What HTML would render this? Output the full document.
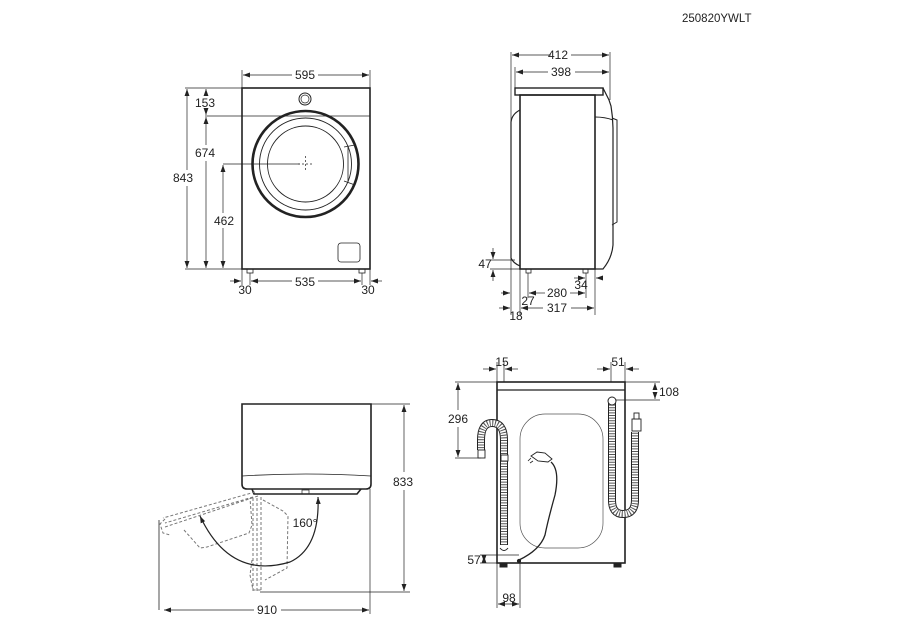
<!DOCTYPE html>
<html><head><meta charset="utf-8"><style>
html,body{margin:0;padding:0;background:#fff}
svg{display:block}
text{font-family:"Liberation Sans",Arial,sans-serif;font-size:12px;fill:#222}
</style></head><body>
<svg width="915" height="642" viewBox="0 0 915 642" xmlns="http://www.w3.org/2000/svg">
<defs>
<marker id="a" viewBox="0 0 10 10" refX="10" refY="5" markerWidth="7" markerHeight="7" orient="auto-start-reverse" markerUnits="userSpaceOnUse"><path d="M0,1.5 L10,5 L0,8.5 z" fill="#222"/></marker>
</defs>
<text x="682" y="22" style="font-size:11.5px">250820YWLT</text>

<!-- FRONT VIEW -->
<g stroke="#222" fill="none">
<rect x="242" y="88" width="128" height="181" stroke-width="1.6"/>
<line x1="242" y1="116" x2="370" y2="116" stroke-width="0.8"/>
<circle cx="305" cy="99" r="6" stroke-width="1"/><circle cx="305" cy="99" r="4" stroke-width="0.7"/>
<circle cx="305.5" cy="164" r="53" stroke-width="2.6"/>
<circle cx="305.5" cy="164" r="46" stroke-width="0.9"/>
<circle cx="305.5" cy="164" r="38" stroke-width="0.9"/>
<path d="M344,147 L355,145 M344,181 L355,185 M348,147 L348,181" stroke-width="0.8"/>
<rect x="338" y="243" width="22" height="19" rx="3" stroke-width="0.8"/>
<rect x="247" y="269" width="6" height="4" stroke-width="0.8"/>
<rect x="359" y="269" width="6" height="4" stroke-width="0.8"/>
<path d="M298,164 h15 M305.5,156 v16" stroke-width="0.7" stroke-dasharray="2,2"/>
<g stroke-width="0.7">
<line x1="242" y1="70" x2="242" y2="88"/><line x1="370" y1="70" x2="370" y2="88"/>
<line x1="243" y1="75" x2="292" y2="75" marker-start="url(#a)"/><line x1="318" y1="75" x2="369" y2="75" marker-end="url(#a)"/>
<line x1="185" y1="88" x2="242" y2="88"/><line x1="185" y1="269" x2="242" y2="269"/>
<line x1="205" y1="116" x2="242" y2="116"/>
<line x1="187" y1="89" x2="187" y2="170" marker-start="url(#a)"/><line x1="187" y1="186" x2="187" y2="268" marker-end="url(#a)"/>
<line x1="206" y1="89" x2="206" y2="96" marker-start="url(#a)"/><line x1="206" y1="110" x2="206" y2="115" marker-end="url(#a)"/>
<line x1="206" y1="117" x2="206" y2="145" marker-start="url(#a)"/><line x1="206" y1="161" x2="206" y2="268" marker-end="url(#a)"/>
<line x1="223" y1="164" x2="300" y2="164"/>
<line x1="223" y1="165" x2="223" y2="213" marker-start="url(#a)"/><line x1="223" y1="228" x2="223" y2="268" marker-end="url(#a)"/>
<line x1="242" y1="269" x2="242" y2="285"/><line x1="370" y1="269" x2="370" y2="285"/>
<line x1="250" y1="273" x2="250" y2="285"/><line x1="362" y1="273" x2="362" y2="285"/>
<line x1="230" y1="281" x2="241" y2="281" marker-end="url(#a)"/><line x1="382" y1="281" x2="371" y2="281" marker-end="url(#a)"/>
<line x1="251" y1="281" x2="292" y2="281" marker-start="url(#a)"/><line x1="318" y1="281" x2="361" y2="281" marker-end="url(#a)"/>
</g></g>
<text x="305" y="79" text-anchor="middle">595</text>
<text x="183" y="182" text-anchor="middle">843</text>
<text x="205" y="107" text-anchor="middle">153</text>
<text x="205" y="157" text-anchor="middle">674</text>
<text x="224" y="225" text-anchor="middle">462</text>
<text x="305" y="286" text-anchor="middle">535</text>
<text x="245" y="294" text-anchor="middle">30</text>
<text x="368" y="294" text-anchor="middle">30</text>

<!-- SIDE VIEW -->
<g stroke="#222" fill="none">
<rect x="515" y="88" width="88" height="7" stroke-width="1.4"/>
<rect x="520" y="95" width="75" height="174" stroke-width="1.6"/>
<path d="M520,110 Q512,114 511,122 L511,258 Q513,263 520,266" stroke-width="1.2"/>
<path d="M603,88 L609,100 L611,106 Q613,118 613,130 L613,245 Q612,258 603,269 L595,269" stroke-width="1.2"/>
<path d="M595,117 Q605,117 613,120 M612,118 L617,120 L617,222 L612,225" stroke-width="1"/>
<rect x="526" y="269" width="5" height="4" stroke-width="0.8"/><rect x="583" y="269" width="5" height="4" stroke-width="0.8"/>
<g stroke-width="0.7">
<line x1="511" y1="52" x2="511" y2="315"/><line x1="610" y1="52" x2="610" y2="100"/><line x1="515" y1="67" x2="515" y2="88"/>
<line x1="512" y1="55" x2="551" y2="55" marker-start="url(#a)"/><line x1="571" y1="55" x2="609" y2="55" marker-end="url(#a)"/>
<line x1="516" y1="72" x2="548" y2="72" marker-start="url(#a)"/><line x1="575" y1="72" x2="609" y2="72" marker-end="url(#a)"/>
<line x1="490" y1="260" x2="515" y2="260"/><line x1="490" y1="269" x2="526" y2="269"/>
<line x1="493" y1="248" x2="493" y2="259" marker-end="url(#a)"/><line x1="493" y1="281" x2="493" y2="270" marker-end="url(#a)"/>
<line x1="520" y1="269" x2="520" y2="315"/><line x1="528" y1="273" x2="528" y2="298"/><line x1="586" y1="273" x2="586" y2="298"/><line x1="595" y1="269" x2="595" y2="315"/>
<line x1="501" y1="293" x2="510" y2="293" marker-end="url(#a)"/><line x1="529" y1="293" x2="545" y2="293" marker-start="url(#a)"/><line x1="570" y1="293" x2="585" y2="293" marker-end="url(#a)"/>
<line x1="574" y1="278" x2="585" y2="278" marker-end="url(#a)"/><line x1="599" y1="278" x2="596" y2="278" marker-end="url(#a)"/>
<line x1="499" y1="308" x2="510" y2="308" marker-end="url(#a)"/><line x1="521" y1="308" x2="543" y2="308" marker-start="url(#a)"/><line x1="571" y1="308" x2="594" y2="308" marker-end="url(#a)"/>
</g></g>
<text x="558" y="59" text-anchor="middle">412</text>
<text x="561" y="76" text-anchor="middle">398</text>
<text x="485" y="268" text-anchor="middle">47</text>
<text x="528" y="305" text-anchor="middle">27</text>
<text x="557" y="297" text-anchor="middle">280</text>
<text x="581" y="289" text-anchor="middle">34</text>
<text x="516" y="320" text-anchor="middle">18</text>
<text x="557" y="312" text-anchor="middle">317</text>

<!-- TOP VIEW DOOR -->
<g stroke="#222" fill="none">
<path d="M242,404 L371,404 L371,484 Q371,489 366,489 L247,489 Q242,489 242,484 Z" stroke-width="1.6"/>
<path d="M242,476 Q305,472 371,476" stroke-width="0.8"/>
<path d="M252,489 L254,494 L357,494 L361,489" stroke-width="1.6"/>
<rect x="302" y="490" width="7" height="4" stroke-width="0.7"/>
<g stroke="#777" stroke-width="1" stroke-dasharray="3,2">
<path d="M255,492 L163,518 M253,497 L165,523 M258,496 L165,527"/>
<path d="M165,519 L160,524 L163,533 L170,535"/>
<path d="M184,530 L200,548 L207,547 L249,533 L252,525 L250,498"/>
<path d="M253,498 L253,592 M257,498 L257,592 M261,497 L261,590"/>
<path d="M263,500 L283,511 L288,516 L287,568 L265,580"/>
<path d="M252,560 L250,575 L253,590 L262,590"/>
</g>
<path d="M159,520 L159,610" stroke-width="0.8"/>
<path d="M200,516 Q230,580 290,562 Q320,548 318,497" stroke-width="1.2" marker-start="url(#a)" marker-end="url(#a)"/>
<g stroke-width="0.7">
<line x1="371" y1="404" x2="410" y2="404"/><line x1="260" y1="592" x2="410" y2="592"/>
<line x1="404" y1="405" x2="404" y2="472" marker-start="url(#a)"/><line x1="404" y1="490" x2="404" y2="591" marker-end="url(#a)"/>
<line x1="370" y1="489" x2="370" y2="614"/>
<line x1="164" y1="610" x2="254" y2="610" marker-start="url(#a)"/><line x1="281" y1="610" x2="369" y2="610" marker-end="url(#a)"/>
</g></g>
<text x="305" y="527" text-anchor="middle">160°</text>
<text x="403" y="486" text-anchor="middle">833</text>
<text x="267" y="614" text-anchor="middle">910</text>

<!-- REAR VIEW -->
<g stroke="#222" fill="none">
<rect x="497" y="382" width="128" height="181" stroke-width="1.6"/>
<line x1="497" y1="390" x2="625" y2="390" stroke-width="1.2"/>
<rect x="520" y="414" width="83" height="134" rx="25" stroke-width="0.7" stroke="#555"/>
<rect x="500" y="563" width="7" height="4" fill="#222"/><rect x="614" y="563" width="7" height="4" fill="#222"/>
<path d="M504,545 L504,440 Q504,423 492,423 Q481,423 481,440 L481,450" stroke="#222" stroke-width="8"/>
<path d="M504,545 L504,440 Q504,423 492,423 Q481,423 481,440 L481,450" stroke="#fff" stroke-width="6"/>
<path d="M504,545 L504,440 Q504,423 492,423 Q481,423 481,440 L481,450" stroke="#555" stroke-width="6" stroke-dasharray="1,1.6"/>
<path d="M500,548 Q504,553 508,548" stroke-width="1"/>
<rect x="478" y="450" width="7" height="8" stroke-width="0.9" fill="#fff"/>
<rect x="501" y="455" width="7" height="6" stroke-width="0.9" fill="#fff"/>
<path d="M612,402 L612,500 Q612,514 623,514 Q635,514 635,500 L635,432" stroke="#222" stroke-width="8"/>
<path d="M612,402 L612,500 Q612,514 623,514 Q635,514 635,500 L635,432" stroke="#fff" stroke-width="6"/>
<path d="M612,402 L612,500 Q612,514 623,514 Q635,514 635,500 L635,432" stroke="#555" stroke-width="6" stroke-dasharray="1,1.6"/>
<circle cx="612" cy="401" r="4" stroke-width="1" fill="#fff"/>
<rect x="632" y="419" width="9" height="12" stroke-width="0.9" fill="#fff"/>
<rect x="634" y="413" width="5" height="6" stroke-width="0.9" fill="#fff"/>
<path d="M551,462 Q560,470 555,495 Q548,520 545,535 Q540,550 519,560" stroke-width="1.3"/>
<path d="M531,456 L537,452 L545,453 L552,459 L548,462 L538,461 Z" stroke-width="0.9" fill="#fff"/>
<path d="M531,458 L528,461 M533,461 L530,463" stroke-width="0.8"/>
<circle cx="519" cy="561" r="1.6" fill="#222"/>
<g stroke-width="0.7">
<line x1="497" y1="362" x2="497" y2="382"/><line x1="504" y1="362" x2="504" y2="382"/>
<line x1="483" y1="369" x2="496" y2="369" marker-end="url(#a)"/><line x1="518" y1="369" x2="505" y2="369" marker-end="url(#a)"/>
<line x1="611" y1="362" x2="611" y2="382"/><line x1="625" y1="362" x2="625" y2="382"/>
<line x1="597" y1="369" x2="610" y2="369" marker-end="url(#a)"/><line x1="639" y1="369" x2="626" y2="369" marker-end="url(#a)"/>
<line x1="455" y1="382" x2="497" y2="382"/><line x1="455" y1="458" x2="481" y2="458"/>
<line x1="458" y1="383" x2="458" y2="410" marker-start="url(#a)"/><line x1="458" y1="427" x2="458" y2="457" marker-end="url(#a)"/>
<line x1="625" y1="382" x2="660" y2="382"/><line x1="616" y1="400" x2="660" y2="400"/>
<line x1="655" y1="386" x2="655" y2="383" marker-end="url(#a)"/><line x1="655" y1="396" x2="655" y2="399" marker-end="url(#a)"/>
<line x1="480" y1="555" x2="519" y2="555"/><line x1="480" y1="563" x2="497" y2="563"/>
<line x1="484" y1="558" x2="484" y2="556" marker-end="url(#a)"/><line x1="484" y1="560" x2="484" y2="562" marker-end="url(#a)"/>
<line x1="497" y1="563" x2="497" y2="608"/><line x1="520" y1="561" x2="520" y2="608"/>
<line x1="498" y1="604" x2="519" y2="604" marker-start="url(#a)" marker-end="url(#a)"/>
</g></g>
<text x="502" y="366" text-anchor="middle">15</text>
<text x="618" y="366" text-anchor="middle">51</text>
<text x="458" y="423" text-anchor="middle">296</text>
<text x="669" y="396" text-anchor="middle">108</text>
<text x="474" y="564" text-anchor="middle">57</text>
<text x="509" y="602" text-anchor="middle">98</text>
</svg>
</body></html>
